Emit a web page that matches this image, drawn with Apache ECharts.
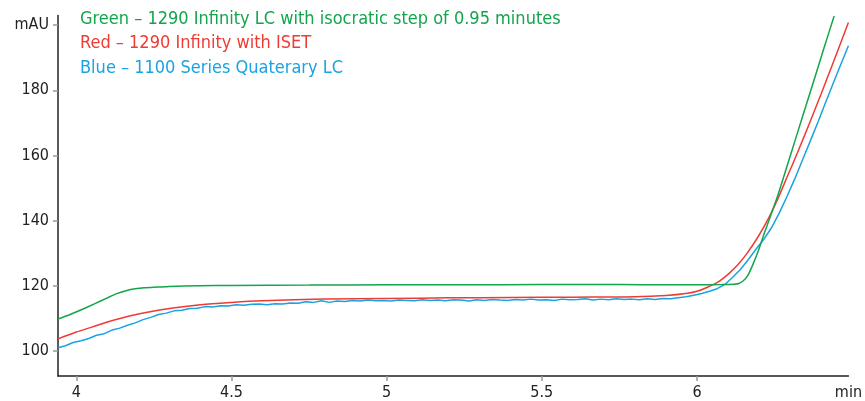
<!DOCTYPE html>
<html><head><meta charset="utf-8">
<script src="https://cdn.jsdelivr.net/npm/echarts@6/dist/echarts.min.js"></script>
<style>html,body{margin:0;padding:0;background:#fff}#c{width:865px;height:401px}</style>
</head><body><div id="c"></div>
<script>
var FONT = '"Liberation Sans Narrow","DejaVu Sans Condensed","Roboto Condensed",sans-serif';
var legendTexts = ['Green – 1290 Infinity LC with isocratic step of 0.95 minutes','Red – 1290 Infinity with ISET','Blue – 1100 Series Quaterary LC'];
var xTicks = [4, 4.5, 5, 5.5, 6];
var yTicks = [100, 120, 140, 160, 180, 200];
var xUnit = 'min', yUnit = 'mAU';

var greenX = [3.941,3.98,4.02,4.06,4.10,4.13,4.16,4.19,4.22,4.26,4.30,4.40,4.50,4.75,5.0,5.25,5.5,5.75,5.9,6.0,6.08,6.12,6.135,6.15,6.164,6.18,6.196,6.218,6.26,6.303,6.34,6.38,6.41,6.442];
var greenY = [109.8,111.2,112.8,114.5,116.3,117.6,118.5,119.1,119.4,119.6,119.8,120.0,120.1,120.2,120.3,120.3,120.4,120.4,120.3,120.3,120.4,120.5,120.7,121.6,123.2,126.5,130.3,136.4,147.6,160.6,171.9,184.0,193.2,202.8];

var redX = [3.941,4.0,4.05,4.1,4.15,4.2,4.3,4.4,4.5,4.6,4.8,5.0,5.2,5.4,5.6,5.8,5.9,5.97,6.0,6.03,6.07,6.1,6.13,6.16,6.196,6.23,6.26,6.29,6.324,6.36,6.4,6.44,6.488];
var redY = [103.7,105.8,107.3,108.9,110.2,111.3,113.0,114.2,114.9,115.4,115.9,116.1,116.3,116.4,116.5,116.6,117.0,117.7,118.3,119.4,121.3,123.5,126.3,129.8,134.9,140.6,146.6,153.3,160.9,169.3,178.9,188.8,200.8];

var blueX = [3.941,3.965,3.99,4.015,4.04,4.065,4.09,4.115,4.14,4.165,4.19,4.215,4.24,4.265,4.29,4.315,4.34,4.365,4.39,4.415,4.44,4.465,4.49,4.515,4.54,4.565,4.59,4.615,4.64,4.665,4.69,4.715,4.74,4.765,4.79,4.815,4.84,4.865,4.89,4.915,4.94,4.965,4.99,5.015,5.04,5.065,5.09,5.115,5.14,5.165,5.19,5.215,5.24,5.265,5.29,5.315,5.34,5.365,5.39,5.415,5.44,5.465,5.49,5.515,5.54,5.565,5.59,5.615,5.64,5.665,5.69,5.715,5.74,5.765,5.79,5.815,5.84,5.865,5.89,5.915,5.94,5.965,5.99,6.015,6.04,6.065,6.09,6.115,6.14,6.165,6.19,6.215,6.24,6.265,6.29,6.315,6.34,6.365,6.39,6.415,6.44,6.465,6.488];
var blueY = [101.0,101.6,102.6,103.1,103.8,104.8,105.3,106.4,107.0,107.9,108.6,109.6,110.3,111.2,111.6,112.3,112.5,113.0,113.1,113.6,113.5,113.9,113.8,114.2,114.0,114.3,114.4,114.2,114.5,114.4,114.7,114.6,115.1,114.9,115.4,114.9,115.3,115.2,115.5,115.3,115.6,115.4,115.5,115.3,115.6,115.5,115.4,115.7,115.5,115.6,115.4,115.7,115.6,115.3,115.7,115.5,115.8,115.6,115.5,115.8,115.6,115.9,115.6,115.7,115.5,115.9,115.7,115.8,116.0,115.6,115.9,115.7,116.0,115.8,115.9,115.7,116.0,115.8,116.1,116.0,116.3,116.6,117.1,117.6,118.3,119.1,120.4,122.6,125.0,128.0,131.2,134.2,137.8,142.3,147.4,152.8,158.6,164.4,170.3,176.4,182.4,188.3,193.7];

var X_MIN = 3.941, X_MAX = 6.488, Y_MIN = 92.3, Y_MAX = 203;
function pairs(xs, ys){ return xs.map(function(x,i){ return [x, ys[i]]; }); }

var C_GREEN = '#13a54b', C_RED = '#ee3b33', C_BLUE = '#1aa3e0';
var chart = echarts.init(document.getElementById('c'), null, {renderer:'canvas'});
chart.setOption({
  animation: false,
  grid: {left: 58, right: 13, top: 15.4, bottom: 23, containLabel: false},
  xAxis: {
    type: 'value', min: X_MIN, max: X_MAX,
    axisLine: {lineStyle: {color: '#222', width: 1.5}},
    axisTick: {customValues: xTicks, length: 5, lineStyle: {color: '#999', width: 1.5}},
    axisLabel: {customValues: xTicks.concat([X_MAX]), margin: 9, color: '#222', fontFamily: FONT, fontSize: 16,
      formatter: function(v){ return Math.abs(v - X_MAX) < 1e-6 ? xUnit : String(v); }},
    splitLine: {show: false}
  },
  yAxis: {
    type: 'value', min: Y_MIN, max: Y_MAX,
    axisLine: {show: true, lineStyle: {color: '#222', width: 1.5}},
    axisTick: {show: true, customValues: yTicks, length: 5, lineStyle: {color: '#999', width: 1.5}},
    axisLabel: {customValues: yTicks, margin: 9, color: '#222', fontFamily: FONT, fontSize: 16,
      formatter: function(v){ return v === 200 ? yUnit : String(v); }},
    splitLine: {show: false}
  },
  graphic: legendTexts.map(function(t, i){
    return {type: 'text', x: 80, y: [19, 43.5, 68][i], silent: true,
      style: {text: t, fill: [C_GREEN, C_RED, C_BLUE][i], font: '18px ' + FONT, align: 'left', verticalAlign: 'middle'}};
  }),
  series: [
    {type: 'line', name: 'Blue', data: pairs(blueX, blueY), showSymbol: false, lineStyle: {color: C_BLUE, width: 1.5}, z: 2},
    {type: 'line', name: 'Red', data: pairs(redX, redY), showSymbol: false, smooth: 0.3, lineStyle: {color: C_RED, width: 1.5}, z: 3},
    {type: 'line', name: 'Green', data: pairs(greenX, greenY), showSymbol: false, smooth: 0.2, lineStyle: {color: C_GREEN, width: 1.5}, z: 4}
  ]
});
</script></body></html>
